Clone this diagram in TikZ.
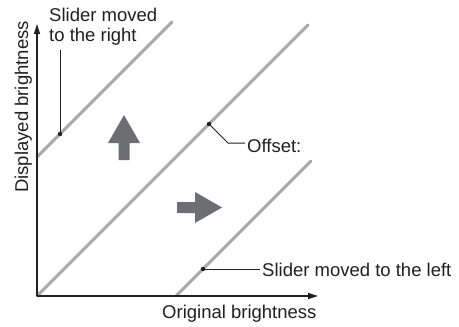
\documentclass[tikz,border=0pt]{standalone}
\usepackage{fontspec}
\setmainfont{Liberation Sans}
\usetikzlibrary{arrows.meta}
\definecolor{ink}{HTML}{231F20}
\definecolor{curve}{HTML}{A7A9AC}
\definecolor{bigarrow}{HTML}{6D6E71}
\tikzset{
  axis/.style={draw=ink, line width=1.4pt, -{Triangle[length=10pt,width=6pt]}},
  curveline/.style={draw=curve, line width=3pt, line cap=round},
  leader/.style={draw=ink, line width=1pt},
  dotmark/.style={fill=ink},
  lbl/.style={font=\fontsize{18.5}{20}\selectfont, text=ink, inner sep=0pt},
  moveshape/.style={fill=bigarrow, draw=none}
}
\begin{document}
\begin{tikzpicture}[x=1pt,y=-1pt]
\useasboundingbox (0,0) rectangle (459,327);
% axes
\coordinate (O) at (37,296);
\coordinate (ytip) at (37,24);
\coordinate (xtip) at (318,296);
% curves
\coordinate (u0) at (37,157);
\coordinate (u1) at (172,22);
\coordinate (m1) at (308,25);
\coordinate (l0) at (176,296);
\coordinate (l1) at (311,161);
\draw[curveline] (u0) -- (u1);
\draw[curveline] (O) -- (m1);
\draw[curveline] (l0) -- (l1);
\draw[axis] (O) -- (ytip);
\draw[axis] (O) -- (xtip);
% dots on the curves
\coordinate (ud) at (60,134);
\coordinate (md) at (209,124);
\coordinate (ld) at (203,269);
% labels
\node[lbl, anchor=base west] (rt1) at (49,21) {Slider moved};
\node[lbl, anchor=base west] (rt2) at (49,41) {to the right};
\node[lbl, anchor=base west] (off) at (247,152) {Offset:};
\node[lbl, anchor=base west] (lft) at (262,276.5) {Slider moved to the left};
\node[lbl, anchor=base west] (xl) at (162,318.5) {Original brightness};
\node[lbl, anchor=base, rotate=90] (yl) at (28,107) {Displayed brightness};
% leaders
\coordinate (ut) at (60,50);
\coordinate (bend) at (228,143);
\draw[leader] (ud) -- (ut);
\draw[leader] (md) -- (bend) -- ([xshift=-2pt]bend -| off.west);
\draw[leader] (ld) -- ([xshift=-2pt]ld -| lft.west);
\fill[dotmark] (ud) circle (2.2pt);
\fill[dotmark] (md) circle (2.2pt);
\fill[dotmark] (ld) circle (2.2pt);
% big arrows
\fill[moveshape] (124,115) -- (140,143) -- (129.5,143) -- (129.5,160) -- (118.5,160) -- (118.5,143) -- (108,143) -- cycle;
\fill[moveshape] (222,207.5) -- (195,192) -- (195,202) -- (177,202) -- (177,213) -- (195,213) -- (195,223) -- cycle;
\end{tikzpicture}
\end{document}
